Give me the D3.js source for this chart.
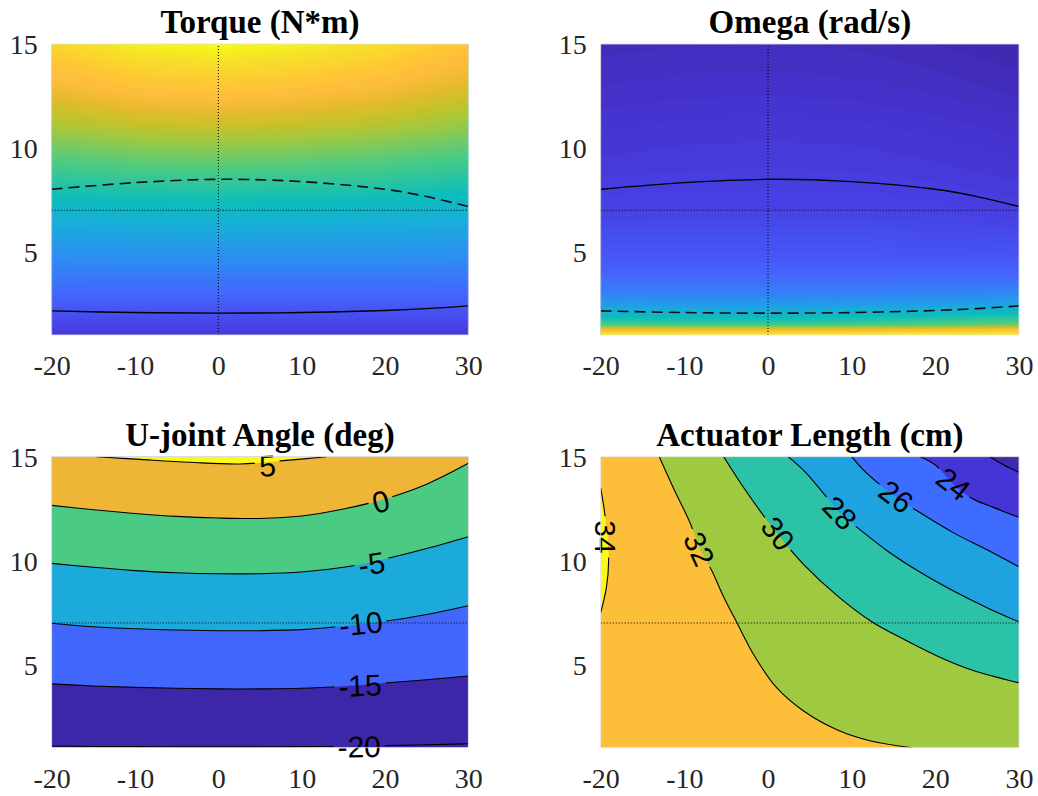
<!DOCTYPE html>
<meta charset="utf-8">
<script src="https://d3js.org/d3.v7.min.js"></script>
<style>
    body { margin: 0; background: #fff; }
    .tick-label { font-family: "Liberation Serif", "Times New Roman", serif; font-size: 28px; fill: #262626; }
    .title { font-family: "Liberation Serif", "Times New Roman", serif; font-weight: bold; font-size: 33px; fill: #000; }
    .clabel { font-family: "Liberation Sans", Arial, sans-serif; font-size: 30px; fill: #000; }
</style>
<div id="chart"></div>
<script>
    // ---- values ----
    var xTicks = [-20, -10, 0, 10, 20, 30];
    var yTicks = [5, 10, 15];
    var titles = ["Torque (N*m)", "Omega (rad/s)", "U-joint Angle (deg)", "Actuator Length (cm)"];
    var refX = 0, refY = 7;   // dotted reference lines

    // upper panels: colour level (0 = bottom of colormap, 1 = top), rows bottom -> top
    var gridX = [-20, -10, 0, 10, 20, 30];
    var torqueY = [1, 3, 5, 7, 9, 11, 13, 15];
    var torqueLevel = [
        [0.07, 0.07, 0.07, 0.07, 0.07, 0.07],
        [0.20, 0.20, 0.20, 0.20, 0.20, 0.20],
        [0.32, 0.33, 0.33, 0.33, 0.33, 0.32],
        [0.455, 0.466, 0.47, 0.466, 0.459, 0.446],
        [0.584, 0.603, 0.61, 0.603, 0.59, 0.567],
        [0.709, 0.74, 0.75, 0.74, 0.719, 0.684],
        [0.821, 0.865, 0.88, 0.865, 0.836, 0.784],
        [0.92, 0.98, 1.00, 0.98, 0.94, 0.87]
    ];
    var omegaY = [1, 1.25, 1.5, 2, 2.5, 3, 4, 5, 7, 9, 11, 13, 15];
    var omegaLevel = [
        [1.00, 1.00, 1.00, 1.00, 1.00, 1.00],
        [0.83, 0.82, 0.82, 0.82, 0.84, 0.86],
        [0.60, 0.58, 0.58, 0.59, 0.61, 0.64],
        [0.46, 0.45, 0.45, 0.46, 0.48, 0.51],
        [0.35, 0.34, 0.34, 0.35, 0.36, 0.38],
        [0.27, 0.27, 0.27, 0.27, 0.28, 0.29],
        [0.19, 0.19, 0.19, 0.19, 0.19, 0.19],
        [0.15, 0.15, 0.15, 0.15, 0.145, 0.14],
        [0.097, 0.10, 0.10, 0.10, 0.095, 0.087],
        [0.075, 0.079, 0.08, 0.079, 0.073, 0.063],
        [0.058, 0.063, 0.065, 0.063, 0.056, 0.045],
        [0.040, 0.044, 0.045, 0.043, 0.036, 0.025],
        [0.026, 0.029, 0.030, 0.028, 0.020, 0.010]
    ];

    // limit curves drawn on the upper panels
    var limitX = [-20, -10, 0, 10, 20, 25, 30];
    var lowLimitY = [2.16, 2.08, 2.05, 2.08, 2.18, 2.27, 2.40];
    var archLimitY = [8.01, 8.33, 8.49, 8.38, 8.01, 7.66, 7.18];

    // U-joint angle contour lines (y at angleX)
    var angleX = [-20, -15, -10, -5, 0, 5, 10, 15, 20, 25, 30];
    var angleM20 = [1.08, 1.06, 1.05, 1.04, 1.04, 1.04, 1.05, 1.07, 1.10, 1.14, 1.19];
    var angleM15 = [4.07, 3.97, 3.90, 3.86, 3.83, 3.83, 3.86, 3.96, 4.11, 4.27, 4.45];
    var angleM10 = [6.99, 6.82, 6.72, 6.66, 6.63, 6.63, 6.68, 6.84, 7.08, 7.41, 7.83];
    var angleM5 = [9.87, 9.68, 9.52, 9.42, 9.37, 9.37, 9.45, 9.68, 10.08, 10.58, 11.15];
    var angle0 = [12.66, 12.45, 12.27, 12.13, 12.05, 12.03, 12.15, 12.48, 12.97, 13.68, 14.68];
    var angle5X = [-14.6, -9.4, -3.4, 2.6, 7.8, 13.0];
    var angle5Y = [15, 14.87, 14.73, 14.65, 14.81, 15];
    var angleLabels = [
        { text: "5", x: 5.9, y: 14.56, rot: -3 },
        { text: "0", x: 19.5, y: 12.84, rot: -15 },
        { text: "-5", x: 18.4, y: 9.84, rot: -9 },
        { text: "-10", x: 17.1, y: 6.96, rot: -6 },
        { text: "-15", x: 17.0, y: 3.98, rot: -3 },
        { text: "-20", x: 16.9, y: 1.04, rot: -1 }
    ];

    // actuator length contour lines ([x, y] along each line)
    var len34 = [[-20, 13.5], [-19.6, 12.5], [-19.2, 11.2], [-19.05, 10.0], [-19.3, 8.75], [-20, 7.5]];
    var len32 = [[-13.0, 15], [-11.2, 13.4], [-9.3, 11.8], [-8.2, 10.6], [-6.7, 9.5], [-5.3, 8.25], [-3.7, 7.0],
        [-1.6, 5.4], [1.0, 3.9], [4.3, 2.75], [8.3, 1.85], [12.3, 1.32], [17.2, 1.0]];
    var len30 = [[-5.3, 15], [-2.55, 13.3], [1.1, 11.3], [4.3, 9.8], [8.4, 8.27], [12.4, 7.06], [16.4, 6.18],
        [20.4, 5.38], [24.35, 4.74], [30, 4.12]];
    var len28 = [[2.4, 15], [4.4, 14.28], [6.5, 13.3], [8.6, 12.3], [10.8, 11.55], [14.4, 10.43], [18.4, 9.39],
        [22.35, 8.5], [26.3, 7.71], [30, 7.05]];
    var len26 = [[10.0, 15], [11.6, 14.28], [15.3, 13.06], [18.0, 12.35], [22.35, 11.3], [26.3, 10.5], [30, 9.7]];
    var len24 = [[18.2, 15], [20.0, 14.6], [22.1, 13.7], [24.35, 13.0], [27.0, 12.55], [30, 12.08]];
    var len22 = [[26.5, 15], [28.2, 14.6], [30, 14.25]];
    var lengthLabels = [
        { text: "34", x: -19.43, y: 11.14, rot: 90 },
        { text: "32", x: -8.25, y: 10.56, rot: 65 },
        { text: "30", x: 1.17, y: 11.3, rot: 52 },
        { text: "28", x: 8.57, y: 12.29, rot: 46 },
        { text: "26", x: 15.3, y: 13.08, rot: 37 },
        { text: "24", x: 22.15, y: 13.69, rot: 38 }
    ];

    // ---- colours ----
    var parula = d3.scaleLinear()
        .domain([0, 3, 6, 12, 19, 25, 31, 38, 44, 47, 50, 53, 56, 60, 63].map(function (i) { return i / 63; }))
        .range(["#3e26a8", "#4532cb", "#4741e5", "#4563fd", "#2d8cf3", "#1ca9df", "#0bbdbd", "#4acb84",
            "#9dc943", "#c5c22a", "#e6bb2d", "#febd3c", "#fec934", "#f5e327", "#f9fb15"])
        .clamp(true);

    var svg = d3.select("#chart").append("svg")
        .attr("width", 1038)
        .attr("height", 796)
        .style("background", "#fff");
    var defs = svg.append("defs");

    var boxes = [
        [51.7, 44, 416.6, 291],
        [600.7, 44, 418.3, 291],
        [51.7, 456.7, 416.6, 291],
        [600.7, 456.7, 418.3, 291]
    ];

    function makeAxes(i) {
        var b = boxes[i];
        var g = svg.append("g").attr("transform", "translate(" + b[0] + "," + b[1] + ")");
        var x = d3.scaleLinear().domain([-20, 30]).range([0, b[2]]);
        var y = d3.scaleLinear().domain([1, 15]).range([b[3], 0]);
        defs.append("clipPath").attr("id", "clip" + i)
            .append("rect").attr("width", b[2]).attr("height", b[3]);
        var plot = g.append("g").attr("clip-path", "url(#clip" + i + ")");
        return { id: i, g: g, x: x, y: y, plot: plot, w: b[2], h: b[3] };
    }

    function plainNumber(d) { return String(d); }   // hyphen minus, as in the figure

    function finishAxes(ax, vertical) {
        var dotted = ax.g.append("g")
            .attr("stroke", "#000")
            .attr("stroke-width", 1)
            .attr("stroke-dasharray", "1,2")
            .attr("fill", "none");
        dotted.append("line")
            .attr("x1", ax.x(-20)).attr("x2", ax.x(30))
            .attr("y1", ax.y(refY)).attr("y2", ax.y(refY));
        if (vertical) {
            dotted.append("line")
                .attr("x1", ax.x(refX)).attr("x2", ax.x(refX))
                .attr("y1", ax.y(1)).attr("y2", ax.y(15));
        }
        ax.g.append("rect")
            .attr("width", ax.w).attr("height", ax.h)
            .attr("fill", "none").attr("stroke", "#e2e2e2").attr("stroke-width", 0.8);

        var xa = ax.g.append("g")
            .attr("transform", "translate(0," + ax.h + ")")
            .call(d3.axisBottom(ax.x).tickValues(xTicks).tickFormat(plainNumber).tickSize(0).tickPadding(20));
        xa.select(".domain").remove();
        xa.selectAll("text").attr("class", "tick-label");

        var ya = ax.g.append("g")
            .call(d3.axisLeft(ax.y).tickValues(yTicks).tickFormat(plainNumber).tickSize(0).tickPadding(14));
        ya.select(".domain").remove();
        ya.selectAll("text").attr("class", "tick-label").attr("dy", "0.34em");

        ax.g.append("text")
            .attr("class", "title")
            .attr("x", ax.w / 2)
            .attr("y", -11)
            .attr("text-anchor", "middle")
            .text(titles[ax.id]);
    }

    function drawField(ax, ys, level) {
        var nx = gridX.length, ny = ys.length;
        var values = [];
        level.forEach(function (row) { row.forEach(function (v) { values.push(v); }); });
        var uDom = [0], uRan = [gridX[0]];
        gridX.forEach(function (v, i) { uDom.push(i + 0.5); uRan.push(v); });
        uDom.push(nx); uRan.push(gridX[nx - 1]);
        var vDom = [0], vRan = [ys[0]];
        ys.forEach(function (v, j) { vDom.push(j + 0.5); vRan.push(v); });
        vDom.push(ny); vRan.push(ys[ny - 1]);
        var uToX = d3.scaleLinear().domain(uDom).range(uRan);
        var vToY = d3.scaleLinear().domain(vDom).range(vRan);
        var proj = d3.geoTransform({
            point: function (u, v) { this.stream.point(ax.x(uToX(u)), ax.y(vToY(v))); }
        });
        var bands = d3.contours().size([nx, ny]).thresholds(d3.range(0, 1, 0.01))(values);
        ax.plot.append("g").selectAll("path")
            .data(bands)
            .join("path")
            .attr("d", d3.geoPath(proj))
            .attr("fill", function (d) { return parula(d.value + 0.005); });
    }

    function drawLimits(ax, solidY, dashedY) {
        var line = d3.line()
            .x(function (d, i) { return ax.x(limitX[i]); })
            .y(function (d) { return ax.y(d); })
            .curve(d3.curveCatmullRom.alpha(0.5));
        ax.plot.append("path").attr("d", line(solidY))
            .attr("fill", "none").attr("stroke", "#000").attr("stroke-width", 1.4);
        ax.plot.append("path").attr("d", line(dashedY))
            .attr("fill", "none").attr("stroke", "#111").attr("stroke-width", 1.6)
            .attr("stroke-dasharray", "11,6");
    }

    // draws the contour labels, and returns a mask id that cuts gaps in the lines under them
    function drawLabels(ax, labels) {
        var lg = ax.g.append("g");
        var maskId = "mask" + ax.id;
        var mask = defs.append("mask").attr("id", maskId)
            .attr("maskUnits", "userSpaceOnUse")
            .attr("x", -60).attr("y", -60).attr("width", ax.w + 120).attr("height", ax.h + 120);
        mask.append("rect")
            .attr("x", -60).attr("y", -60).attr("width", ax.w + 120).attr("height", ax.h + 120)
            .attr("fill", "#fff");
        labels.forEach(function (d) {
            var cx = ax.x(d.x), cy = ax.y(d.y);
            var t = lg.append("text")
                .attr("class", "clabel")
                .attr("text-anchor", "middle")
                .attr("dy", "0.35em")
                .attr("transform", "translate(" + cx + "," + cy + ") rotate(" + d.rot + ")")
                .text(d.text);
            var tw = t.node().getComputedTextLength() + 8;
            mask.append("rect")
                .attr("x", -tw / 2).attr("y", -13).attr("width", tw).attr("height", 26)
                .attr("transform", "translate(" + cx + "," + cy + ") rotate(" + d.rot + ")")
                .attr("fill", "#000");
        });
        return maskId;
    }

    // ---- panel 1: torque ----
    var a1 = makeAxes(0);
    drawField(a1, torqueY, torqueLevel);
    drawLimits(a1, lowLimitY, archLimitY);
    finishAxes(a1, true);

    // ---- panel 2: omega ----
    var a2 = makeAxes(1);
    drawField(a2, omegaY, omegaLevel);
    drawLimits(a2, archLimitY, lowLimitY);
    finishAxes(a2, true);

    // ---- panel 3: U-joint angle ----
    var a3 = makeAxes(2);
    var angleLines = [angleM20, angleM15, angleM10, angleM5, angle0];
    var angleColors = ["#3e26a8", "#4166fc", "#1caadb", "#4bca84", "#eeb537"];
    var angleTop = "#f9fb15";
    a3.plot.append("rect").attr("width", a3.w).attr("height", a3.h).attr("fill", "#3e26a8");
    var angleArea = d3.area()
        .x(function (d) { return a3.x(d[0]); })
        .y0(function (d) { return a3.y(d[1]); })
        .y1(a3.y(15))
        .curve(d3.curveCatmullRom.alpha(0.5));
    var angleLine = d3.line()
        .x(function (d) { return a3.x(d[0]); })
        .y(function (d) { return a3.y(d[1]); })
        .curve(d3.curveCatmullRom.alpha(0.5));
    var angleSeries = angleLines.map(function (ys) {
        return ys.map(function (v, i) { return [angleX[i], v]; });
    });
    var angle5 = angle5X.map(function (v, i) { return [v, angle5Y[i]]; });
    angleSeries.forEach(function (pts, i) {
        a3.plot.append("path").attr("d", angleArea(pts)).attr("fill", angleColors[i]);
    });
    a3.plot.append("path").attr("d", angleArea(angle5)).attr("fill", angleTop);
    var m3 = drawLabels(a3, angleLabels);
    var l3 = a3.plot.append("g").attr("mask", "url(#" + m3 + ")")
        .attr("fill", "none").attr("stroke", "#000").attr("stroke-width", 1.1);
    angleSeries.concat([angle5]).forEach(function (pts) {
        l3.append("path").attr("d", angleLine(pts));
    });
    finishAxes(a3, false);

    // ---- panel 4: actuator length ----
    var a4 = makeAxes(3);
    var lenLine = d3.line()
        .x(function (d) { return a4.x(d[0]); })
        .y(function (d) { return a4.y(d[1]); })
        .curve(d3.curveCatmullRom.alpha(0.5));
    function region(pts, corners) {
        var s = lenLine(pts);
        corners.forEach(function (c) { s += "L" + a4.x(c[0]) + "," + a4.y(c[1]); });
        return s + "Z";
    }
    var lenLines = [len34, len32, len30, len28, len26, len24, len22];
    var lenColors = ["#f9fb15", "#9fc941", "#2bc2a7", "#1ea2e0", "#3d6cfe", "#4535d6", "#3e2aae"];
    var lenCorners = [[], [[30, 1], [30, 15]], [[30, 15]], [[30, 15]], [[30, 15]], [[30, 15]], [[30, 15]]];
    a4.plot.append("rect").attr("width", a4.w).attr("height", a4.h).attr("fill", "#fdbf39");
    lenLines.forEach(function (pts, i) {
        a4.plot.append("path").attr("d", region(pts, lenCorners[i])).attr("fill", lenColors[i]);
    });
    var m4 = drawLabels(a4, lengthLabels);
    var l4 = a4.plot.append("g").attr("mask", "url(#" + m4 + ")")
        .attr("fill", "none").attr("stroke", "#000").attr("stroke-width", 1.1);
    lenLines.forEach(function (pts) {
        l4.append("path").attr("d", lenLine(pts));
    });
    finishAxes(a4, false);
</script>
